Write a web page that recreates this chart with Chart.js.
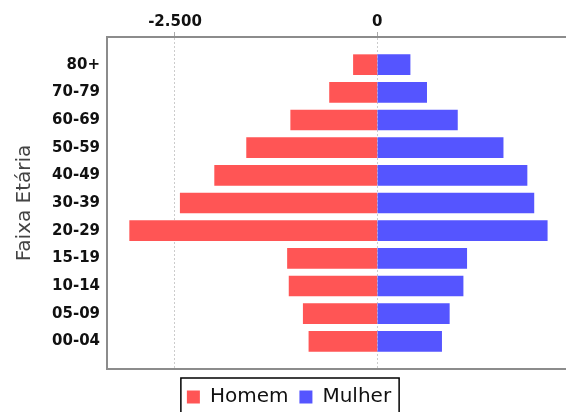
<!DOCTYPE html>
<html>
<head>
<meta charset="utf-8">
<script src="https://cdn.jsdelivr.net/npm/chart.js@4/dist/chart.umd.min.js"></script>
<style>
    html, body { margin: 0; padding: 0; background: #fff; overflow: hidden; }
    #wrap { width: 566px; height: 412px; overflow: hidden; }
</style>
</head>
<body>
<div id="wrap"><canvas id="pyramid" width="578" height="417"></canvas></div>
<script>
// Age groups, top to bottom
const faixas = ['80+', '70-79', '60-69', '50-59', '40-49', '30-39', '20-29', '15-19', '10-14', '05-09', '00-04'];

// Population per group (men drawn to the left as negative values)
const homem = [-295, -590, -1070, -1615, -2010, -2435, -3060, -1110, -1090, -915, -845];
const mulher = [405, 610, 990, 1555, 1850, 1935, 2100, 1105, 1060, 890, 795];

// Tick values shown on the value axis
const xTicks = [-2500, 0];

const GRAY = '#8c8c8c';
const FONT = 'DejaVu Sans';

// Format numbers like pt-BR: -2.500
function fmt(v) {
    const s = Math.abs(v).toFixed(0).replace(/\B(?=(\d{3})+(?!\d))/g, '.');
    return (v < 0 ? '-' : '') + s;
}

function toPoints(values) {
    return values.map((v, i) => ({ x: v, y: i }));
}

// Box around the legend, like the original
const legendBox = {
    id: 'legendBox',
    afterDraw(chart) {
        const boxes = chart.legend && chart.legend.legendHitBoxes;
        if (!boxes || !boxes.length) return;
        const first = boxes[0];
        const last = boxes[boxes.length - 1];
        const ctx = chart.ctx;
        ctx.save();
        ctx.strokeStyle = '#000';
        ctx.lineWidth = 1.5;
        ctx.strokeRect(first.left - 6, first.top - 9, last.left + last.width + 8 - (first.left - 6), first.height + 30);
        ctx.restore();
    }
};

new Chart(document.getElementById('pyramid'), {
    type: 'bar',
    data: {
        datasets: [
            {
                label: 'Homem',
                data: toPoints(homem),
                backgroundColor: '#ff5555',
                borderWidth: 0,
                barThickness: 20,
                grouped: false
            },
            {
                label: 'Mulher',
                data: toPoints(mulher),
                backgroundColor: '#5555ff',
                borderWidth: 0,
                barThickness: 20,
                grouped: false
            }
        ]
    },
    options: {
        indexAxis: 'y',
        responsive: false,
        animation: false,
        layout: { padding: 0 },
        scales: {
            x: {
                type: 'linear',
                position: 'top',
                min: -3340,
                max: 2480,
                afterBuildTicks: scale => { scale.ticks = xTicks.map(v => ({ value: v })); },
                afterFit: scale => { scale.height = 37; },
                grid: {
                    color: '#cccccc',
                    lineWidth: 1,
                    drawTicks: true,
                    tickLength: 5,
                    tickColor: '#aaaaaa'
                },
                border: { display: true, color: GRAY, width: 2, dash: [2, 2] },
                ticks: {
                    padding: 1,
                    color: '#111',
                    font: { family: FONT, size: 15, weight: 'bold' },
                    callback: v => fmt(v)
                }
            },
            x2: {
                type: 'linear',
                axis: 'x',
                position: 'bottom',
                min: -3340,
                max: 2480,
                afterFit: scale => { scale.height = 7; },
                grid: { display: false },
                border: { display: true, color: GRAY, width: 2 },
                ticks: { display: false }
            },
            y: {
                type: 'linear',
                reverse: true,
                offset: false,
                min: -1,
                max: 11,
                afterBuildTicks: scale => { scale.ticks = faixas.map((c, i) => ({ value: i })); },
                afterFit: scale => { scale.width = 107; },
                grid: { display: false, drawTicks: false, offset: false },
                border: { display: true, color: GRAY, width: 2 },
                ticks: {
                    padding: 7,
                    color: '#111',
                    font: { family: FONT, size: 15, weight: 'bold' },
                    callback: v => faixas[v]
                },
                title: {
                    display: true,
                    text: 'Faixa Etária',
                    color: '#444',
                    font: { family: FONT, size: 20 },
                    padding: { top: 13, bottom: 0 }
                }
            }
        },
        plugins: {
            legend: {
                position: 'bottom',
                labels: {
                    boxWidth: 13,
                    boxHeight: 13,
                    padding: 11,
                    color: '#111',
                    font: { family: FONT, size: 20 }
                }
            },
            tooltip: { enabled: false }
        }
    },
    plugins: [legendBox]
});
</script>
</body>
</html>
